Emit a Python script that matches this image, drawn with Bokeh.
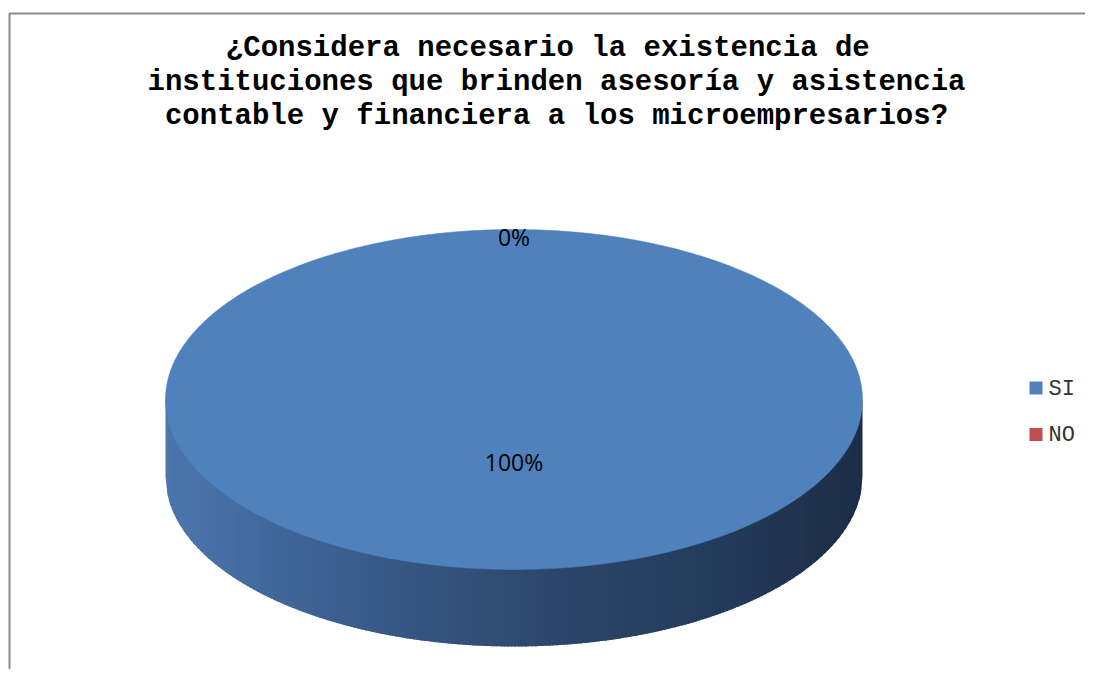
import numpy as np
from bokeh.plotting import figure
from bokeh.models import Range1d
from bokeh.core.properties import value
from bokeh.embed import file_html
from bokeh.resources import INLINE

# ---------------- data ----------------
categories = ["SI", "NO"]
percentages = [100, 0]
slice_colors = ["#4f81bd", "#c0504d"]
title_lines = [
    "¿Considera  necesario la existencia de",
    "instituciones que brinden asesoría y asistencia",
    "contable y financiera a los microempresarios?",
]

# ---------------- figure (data coords == picture pixels) ----------------
W, H = 1085, 669
p = figure(width=W, height=H, output_backend="svg", toolbar_location=None,
           x_range=Range1d(0, W), y_range=Range1d(H, 0),
           min_border=0)
p.axis.visible = False
p.grid.visible = False
p.outline_line_color = None
p.background_fill_color = "white"
p.border_fill_color = "white"

# chart border (top and left visible)
p.line(x=[9, 9, 1100], y=[700, 13, 13], line_color="#8a8a8a", line_width=2)

# title
for i, line in enumerate(title_lines):
    p.text(x=[556], y=[48 + 34 * i], text=[line], text_align="center",
           text_baseline="middle", text_font=value("Liberation Mono"),
           text_font_style="bold", text_font_size="29px", text_color="#000000")

# ---------------- 3D pie ----------------
cx, cy, a, b, depth = 513.5, 399.0, 348.5, 170.0, 77.0
total = float(sum(percentages))
fracs = [v / total for v in percentages]

# side wall with horizontal shading (overlapping strips to avoid seams)
stops_t = [0.0, 0.3, 0.55, 0.8, 1.0]
stops_c = np.array([[0x4b, 0x76, 0xae], [0x38, 0x5a, 0x88], [0x2c, 0x47, 0x6a],
                    [0x24, 0x3a, 0x5a], [0x1c, 0x2d, 0x46]], dtype=float)
n = 200
xe = np.linspace(cx - a, cx + a, n + 1)


def ybot(x):
    return cy + depth + b * np.sqrt(np.clip(1 - ((x - cx) / a) ** 2, 0, 1))


xs, ys, cols = [], [], []
for i in range(n):
    t = (i + 0.5) / n
    c = [np.interp(t, stops_t, stops_c[:, k]) for k in range(3)]
    col = "#%02x%02x%02x" % tuple(int(round(v)) for v in c)
    x0 = xe[i]
    x1 = min(xe[i + 1] + 2.0, cx + a)
    xm = np.linspace(x0, x1, 4)
    xs.append([x0, x1] + list(xm[::-1]))
    ys.append([cy, cy] + list(ybot(xm[::-1])))
    cols.append(col)
p.patches(xs=xs, ys=ys, fill_color=cols, line_color=None)

# top faces of slices (start at 12 o'clock, clockwise)
start = 0.0
label_pos = []
for cat, f, col in zip(categories, fracs, slice_colors):
    end = start + f
    if f > 0:
        th = np.linspace(start, end, 400) * 2 * np.pi
        px = cx + a * np.sin(th)
        py = cy - b * np.cos(th)
        if f < 1:
            px = np.concatenate([[cx], px])
            py = np.concatenate([[cy], py])
        p.patch(x=px, y=py, fill_color=col, line_color=col, line_width=0.5)
    mid = (start + end) / 2 * 2 * np.pi
    r = 0.36 if f > 0.5 else 0.96
    label_pos.append((cx + r * a * np.sin(mid), cy - r * b * np.cos(mid)))
    start = end

labels = ["%d%%" % v for v in percentages]
p.text(x=[q[0] for q in label_pos], y=[q[1] + 1 for q in label_pos], text=labels,
       text_align="center", text_baseline="middle", text_font=value("Open Sans"),
       text_font_size="23px", text_color="#000000")

# ---------------- legend ----------------
ly = [387.5 + 46.5 * i for i in range(len(categories))]
p.rect(x=[1035.5] * len(categories), y=ly, width=13, height=13,
       width_units="screen", height_units="screen",
       fill_color=slice_colors, line_color=None)
p.text(x=[1048] * len(categories), y=[v + 1 for v in ly], text=categories,
       text_align="left", text_baseline="middle",
       text_font=value("Liberation Mono"), text_font_size="22px",
       text_color="#333333")

open("out.html", "w").write(file_html(p, INLINE))
